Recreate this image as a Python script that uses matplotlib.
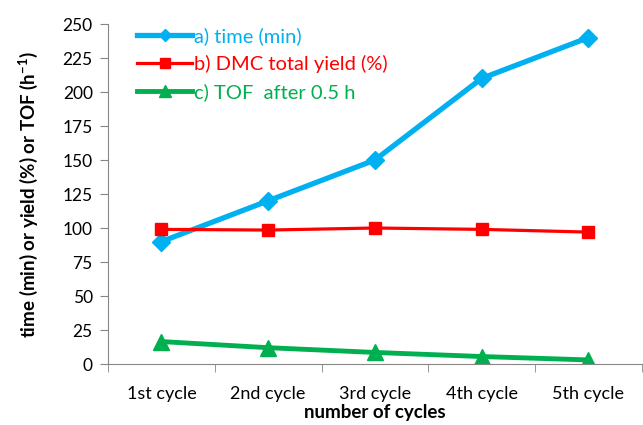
import matplotlib
matplotlib.use("Agg")
import matplotlib.pyplot as plt
import numpy as np

plt.rcParams['font.family'] = ['Lato', 'DejaVu Sans']
plt.rcParams['mathtext.fontset'] = 'custom'
plt.rcParams['mathtext.rm'] = 'Lato'
plt.rcParams['mathtext.bf'] = 'Lato:bold'

cycles = ['1st cycle', '2nd cycle', '3rd cycle', '4th cycle', '5th cycle']
time_min = [90, 120, 150, 210, 240]
dmc_yield = [99, 98.5, 100, 99, 97]
tof = [16.5, 12, 8.5, 5.5, 3]

x = np.arange(len(cycles))

fig = plt.figure(figsize=(6.43, 4.25), dpi=100)
ax = fig.add_axes([0.168, 0.1435, 0.83, 0.80])

ax.plot(x, time_min, color='#00B0F0', lw=3.8, marker='D', ms=9,
        label='a) time (min)')
ax.plot(x, dmc_yield, color='#FF0000', lw=2.3, marker='s', ms=8.5,
        label='b) DMC total yield (%)')
ax.plot(x, tof, color='#00B050', lw=3.5, marker='^', ms=11,
        label='c) TOF  after 0.5 h')

ax.set_xlim(-0.5, 4.5)
ax.set_ylim(0, 250)
ax.set_yticks(range(0, 251, 25))
ax.set_xticks(x)
ax.set_xticklabels(cycles, fontsize=13)
ax.set_xticks(np.arange(-0.5, 4.6, 1), minor=True)
ax.tick_params(axis='x', which='major', length=0, pad=16)
ax.tick_params(axis='x', which='minor', length=6, color='#868686', direction='out')
ax.tick_params(axis='y', length=6, color='#868686', labelsize=12.5, pad=5)

for s in ['top', 'right']:
    ax.spines[s].set_visible(False)
for s in ['left', 'bottom']:
    ax.spines[s].set_color('#868686')

ax.set_xlabel('number of cycles', fontsize=13.5, fontweight='bold', labelpad=1)
ax.set_ylabel('time (min) or yield (%) or TOF (h$^{\\mathbf{-1}}$)', fontsize=13.5,
              fontweight='bold', labelpad=16)

leg = ax.legend(loc='upper left', bbox_to_anchor=(0.02, 1.045), frameon=False,
                fontsize=14.5, handlelength=2.75, handletextpad=0.1, labelspacing=0.5)
for t, l, ms in zip(leg.get_texts(), leg.get_lines(), [6, 7, 8]):
    t.set_color(l.get_color())
    l.set_markersize(ms)

fig.savefig('out.png', dpi=100)
